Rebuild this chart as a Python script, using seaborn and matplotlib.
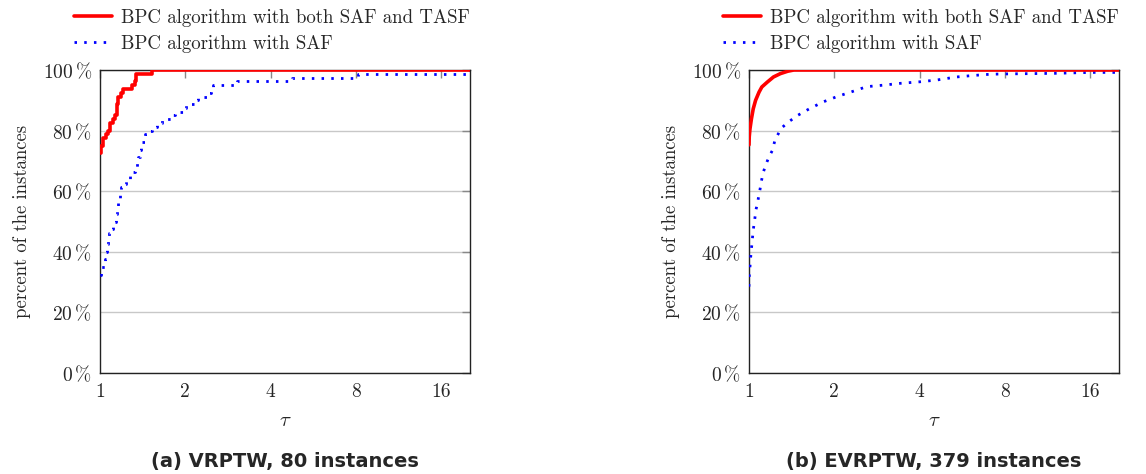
import numpy as np
import pandas as pd
import seaborn as sns
import matplotlib
matplotlib.use("Agg")
import matplotlib.pyplot as plt

# ---------------- data ----------------
series_names = ["BPC algorithm with both SAF and TASF", "BPC algorithm with SAF"]
captions = ["(a) VRPTW, 80 instances", "(b) EVRPTW, 379 instances"]
x_ticks = [1, 2, 4, 8, 16]
x_tick_labels = ["1", "2", "4", "8", "16"]
y_ticks = [0, 20, 40, 60, 80, 100]
y_tick_labels = [r"$0\,\%$", r"$20\,\%$", r"$40\,\%$", r"$60\,\%$", r"$80\,\%$", r"$100\,\%$"]

# (a) VRPTW - step performance profiles
tau_a_both = [1.000, 1.006, 1.027, 1.047, 1.070, 1.085, 1.110, 1.130, 1.145, 1.160,
              1.185, 1.208, 1.300, 1.329, 1.337, 1.523, 20.2]
pct_a_both = [72.50, 75.00, 77.50, 78.75, 80.00, 82.50, 83.75, 85.00, 88.75, 91.25,
              92.50, 93.75, 95.00, 96.25, 98.75, 100.0, 100.0]

tau_a_saf = [1.000, 1.008, 1.040, 1.050, 1.055, 1.070, 1.075, 1.085, 1.110, 1.130,
             1.135, 1.145, 1.160, 1.167, 1.177, 1.190, 1.220, 1.240, 1.280, 1.310,
             1.330, 1.350, 1.360, 1.380, 1.390, 1.400, 1.440, 1.480, 1.520, 1.590,
             1.650, 1.790, 1.840, 1.970, 2.010, 2.160, 2.220, 2.410, 2.460, 2.510,
             3.040, 4.750, 8.100, 19.60, 20.2]
pct_a_saf = [32.50, 35.00, 37.50, 40.00, 42.50, 43.75, 46.25, 47.50, 48.75, 50.00,
             52.50, 53.75, 56.25, 57.50, 60.00, 61.25, 62.50, 63.75, 65.00, 66.25,
             67.50, 70.00, 71.25, 73.75, 75.00, 76.25, 78.75, 80.00, 81.25, 82.50,
             83.75, 85.00, 86.25, 87.50, 88.75, 90.00, 91.25, 92.50, 93.75, 95.00,
             96.25, 97.50, 98.75, 100.0, 100.0]

# (b) EVRPTW - dense profiles
tau_b_both = [1.000, 1.002, 1.008, 1.020, 1.035, 1.055, 1.085, 1.110, 1.160, 1.220,
              1.290, 1.370, 1.440, 20.2]
pct_b_both = [75.3, 78.0, 80.6, 83.9, 87.2, 90.0, 92.7, 94.4, 96.0, 97.7,
              98.8, 99.6, 100.0, 100.0]

tau_b_saf = [1.000, 1.002, 1.008, 1.014, 1.019, 1.027, 1.035, 1.047, 1.058, 1.076,
             1.090, 1.105, 1.120, 1.145, 1.177, 1.210, 1.235, 1.300, 1.380, 1.490,
             1.640, 1.830, 2.040, 2.300, 2.600, 2.980, 3.420, 4.000, 4.600, 5.400,
             6.190, 7.100, 8.000, 12.00, 16.00, 20.2]
pct_b_saf = [28.5, 31.8, 35.1, 38.4, 40.6, 43.9, 47.2, 50.5, 53.8, 57.1,
             59.8, 63.1, 65.9, 68.6, 71.4, 73.5, 76.9, 80.8, 82.9, 85.1,
             87.3, 89.5, 91.2, 92.8, 94.5, 95.0, 95.6, 96.1, 96.7, 97.7,
             98.2, 98.6, 98.7, 98.9, 99.2, 99.2]

panels = [
    (tau_a_both, pct_a_both, tau_a_saf, pct_a_saf, "steps-post"),
    (tau_b_both, pct_b_both, tau_b_saf, pct_b_saf, "default"),
]

# ---------------- style ----------------
sns.set_theme(style="white")
plt.rcParams["font.family"] = ["cmr10", "DejaVu Serif"]
plt.rcParams["mathtext.fontset"] = "cm"
plt.rcParams["axes.unicode_minus"] = False

W, H = 1146, 474
fig = plt.figure(figsize=(W / 100, H / 100), dpi=100)

ax_lefts = [100, 749]
ax_w = 370
ax_top, ax_bot = 70, 373

RED = "#ff0000"
BLUE = "#0000ff"

for i, (tb, pb, ts, ps, ds) in enumerate(panels):
    left = ax_lefts[i]
    ax = fig.add_axes([left / W, 1 - ax_bot / H, ax_w / W, (ax_bot - ax_top) / H])
    df_both = pd.DataFrame({"tau": tb, "pct": pb})
    df_saf = pd.DataFrame({"tau": ts, "pct": ps})
    sns.lineplot(data=df_both, x="tau", y="pct", ax=ax, color=RED, lw=2.6,
                 drawstyle=ds, estimator=None, sort=False, zorder=4)
    sns.lineplot(data=df_saf, x="tau", y="pct", ax=ax, color=BLUE, lw=2.0,
                 drawstyle=ds, estimator=None, sort=False, zorder=3)
    ax.lines[-1].set_linestyle((0, (0.9, 2.6)))
    ax.lines[-1].set_dash_capstyle("butt")

    ax.set_xscale("log", base=2)
    ax.set_xlim(1, 20.2)
    ax.set_ylim(0, 100)
    ax.set_xticks(x_ticks)
    ax.set_xticklabels(x_tick_labels)
    ax.xaxis.set_minor_locator(matplotlib.ticker.NullLocator())
    ax.set_yticks(y_ticks)
    ax.set_yticklabels(y_tick_labels)
    ax.tick_params(axis="both", which="major", direction="in", length=6, width=1,
                   color="#888888", labelsize=14, top=True, right=True, pad=6)
    ax.tick_params(axis="x", pad=7)
    ax.grid(axis="y", color="#c8c8c8", lw=1.0)
    ax.grid(axis="x", visible=False)
    for s in ax.spines.values():
        s.set_color("#222222")
        s.set_linewidth(1.0)
        s.set_visible(True)
    ax.set_xlabel(r"$\tau$", fontsize=15, labelpad=8)
    ax.set_ylabel("percent of the instances", fontsize=13.5, labelpad=8)

    handles = ax.lines[:2]
    fig.legend(handles, series_names, loc="upper left",
               bbox_to_anchor=((left - 26) / W, 1 - 9 / H), frameon=False,
               fontsize=13.6, borderpad=0, borderaxespad=0, handlelength=2.0,
               handletextpad=0.5, labelspacing=0.4)

    fig.text((left + ax_w / 2) / W, 1 - 461 / H, captions[i], ha="center", va="center",
             fontsize=14, fontweight="bold", family=["DejaVu Sans"])

fig.savefig("out.png", dpi=100)
